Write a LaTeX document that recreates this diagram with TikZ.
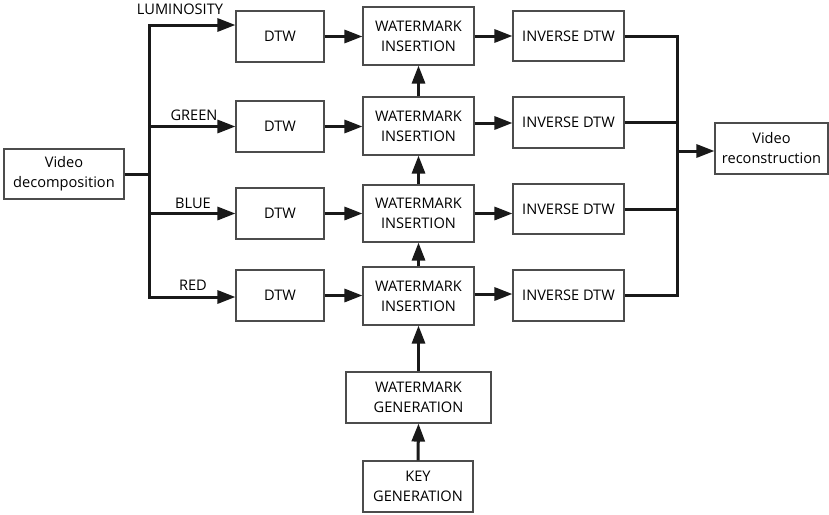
\documentclass[tikz,border=0pt]{standalone}
\usepackage{fontspec}
\setmainfont{Open Sans}
\usetikzlibrary{arrows.meta,calc}
\tikzset{
  box/.style={draw=black!70, line width=1.1pt, fill=white, align=center, inner sep=0pt,
    font=\fontsize{14.6}{20}\selectfont},
  conn/.style={line width=3pt, draw=black!90, line join=miter},
  arr/.style={conn, -{Triangle[length=18pt,width=13pt]}},
  lbl/.style={font=\fontsize{14.6}{20}\selectfont, inner sep=0pt}
}
\begin{document}
\begin{tikzpicture}[x=1pt,y=-1pt]
\useasboundingbox (0,0) rectangle (829,514);
% boxes
\node[box, minimum width=120pt, minimum height=50pt] (vd) at (64,174) {Video\\decomposition};
\node[box, minimum width=88pt, minimum height=51pt] (d1) at (280,36.5) {DTW};
\node[box, minimum width=88pt, minimum height=51pt] (d2) at (280,126.5) {DTW};
\node[box, minimum width=88pt, minimum height=51pt] (d3) at (280,213.5) {DTW};
\node[box, minimum width=88pt, minimum height=51pt] (d4) at (280,295.5) {DTW};
\node[box, minimum width=111pt, minimum height=58pt] (w1) at (418.5,36) {WATERMARK\\INSERTION};
\node[box, minimum width=111pt, minimum height=58pt] (w2) at (418.5,126) {WATERMARK\\INSERTION};
\node[box, minimum width=111pt, minimum height=57pt] (w3) at (418.5,213.5) {WATERMARK\\INSERTION};
\node[box, minimum width=111pt, minimum height=58pt] (w4) at (418.5,296) {WATERMARK\\INSERTION};
\node[box, minimum width=111pt, minimum height=50pt] (i1) at (568.5,36) {INVERSE DTW};
\node[box, minimum width=111pt, minimum height=51pt] (i2) at (568.5,122.5) {INVERSE DTW};
\node[box, minimum width=111pt, minimum height=50pt] (i3) at (568.5,209) {INVERSE DTW};
\node[box, minimum width=111pt, minimum height=51pt] (i4) at (568.5,295.5) {INVERSE DTW};
\node[box, minimum width=113pt, minimum height=51pt] (vr) at (771.5,148.5) {Video\\reconstruction};
\node[box, minimum width=145pt, minimum height=51pt] (wg) at (418.5,397.5) {WATERMARK\\GENERATION};
\node[box, minimum width=110pt, minimum height=51pt] (kg) at (418,486.5) {KEY\\GENERATION};
% labels
\node[lbl] (llum) at (180,9) {LUMINOSITY};
\node[lbl] (lgrn) at (194,115) {GREEN};
\node[lbl] (lblu) at (193,203) {BLUE};
\node[lbl] (lred) at (193,285) {RED};
% split coordinates
\coordinate (st) at (149,25);
\coordinate (sb) at (149,297);
\coordinate (rt) at (677,36);
\coordinate (rb) at (677,295.5);
% left splitter
\draw[conn] (vd.east) -- (vd.east -| st);
\draw[conn, {Triangle[length=18pt,width=13pt]}-{Triangle[length=18pt,width=13pt]}]
  (st -| d1.west) -- (st) -- (sb) -- (sb -| d4.west);
\draw[arr] (d2.west -| st) -- (d2.west);
\draw[arr] (d3.west -| st) -- (d3.west);
% DTW -> WI
\draw[arr] (d1.east) -- (d1.east -| w1.west);
\draw[arr] (d2.east) -- (d2.east -| w2.west);
\draw[arr] (d3.east) -- (d3.east -| w3.west);
\draw[arr] (d4.east) -- (d4.east -| w4.west);
% WI -> INV
\draw[arr] (w1.east) -- (w1.east -| i1.west);
\draw[arr] ($(w2.east)+(0,-3)$) -- ($(w2.east -| i2.west)+(0,-3)$);
\draw[arr] (w3.east) -- (w3.east -| i3.west);
\draw[arr] ($(w4.east)+(0,-2)$) -- ($(w4.east -| i4.west)+(0,-2)$);
% vertical chain
\draw[arr] (w2.north) -- (w1.south);
\draw[arr] (w3.north) -- (w2.south);
\draw[arr] (w4.north) -- (w3.south);
\draw[arr] (wg.north) -- (w4.south);
\draw[arr] (kg.north) -- (wg.south);
% right merger
\draw[conn] (i1.east) -- (rt) -- (rb) -- (i4.east);
\draw[conn] (i2.east) -- (i2.east -| rt);
\draw[conn] (i3.east) -- (i3.east -| rt);
\coordinate (rm) at (677,151);
\draw[arr] (rm) -- (rm -| vr.west);
\end{tikzpicture}
\end{document}
